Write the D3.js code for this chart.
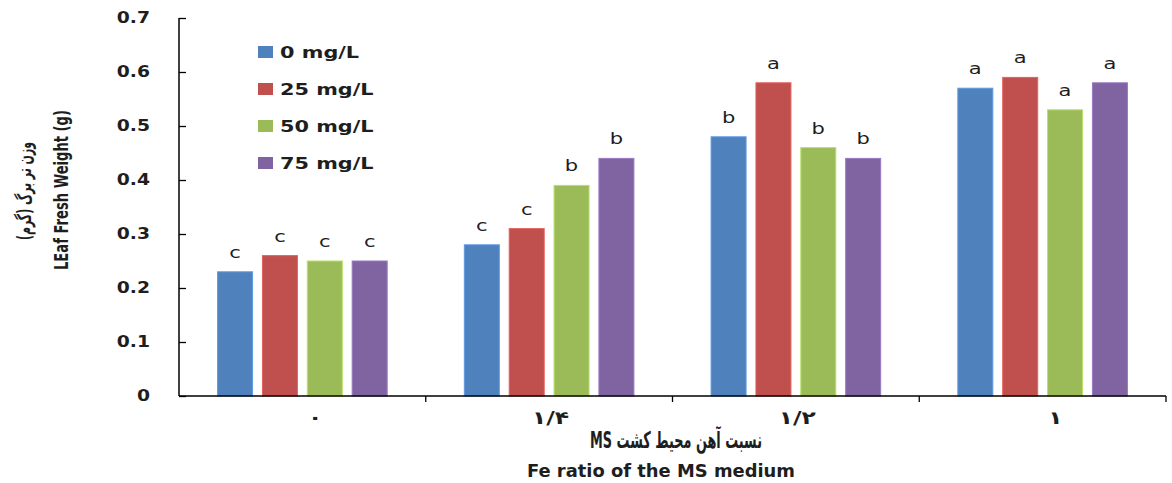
<!DOCTYPE html>
<html>
<head>
<meta charset="utf-8">
<script src="https://cdn.jsdelivr.net/npm/d3@7"></script>
<style>
  html, body { margin: 0; padding: 0; background: #fff; }
  svg { display: block; }
  text { font-family: "DejaVu Sans", sans-serif; fill: #1e1e1e; }
</style>
</head>
<body>
<svg id="chart" width="1172" height="483"></svg>
<script>
// Fe ratios of the MS medium (Persian numerals)
const categories = ["۰", "۱/۴", "۱/۲", "۱"];
// Iron chelate concentrations
const series = ["0 mg/L", "25 mg/L", "50 mg/L", "75 mg/L"];
const colors = ["#4F81BD", "#C0504D", "#9BBB59", "#8064A2"];
// Leaf fresh weight (g), one array per concentration, in category order
const fe0  = [0.23, 0.28, 0.48, 0.57];
const fe25 = [0.26, 0.31, 0.58, 0.59];
const fe50 = [0.25, 0.39, 0.46, 0.53];
const fe75 = [0.25, 0.44, 0.44, 0.58];
// Duncan grouping letters, same layout
const let0  = ["c", "c", "b", "a"];
const let25 = ["c", "c", "a", "a"];
const let50 = ["c", "b", "b", "a"];
const let75 = ["c", "b", "b", "a"];
const yTicks = [0, 0.1, 0.2, 0.3, 0.4, 0.5, 0.6, 0.7];

const values = [fe0, fe25, fe50, fe75];
const letters = [let0, let25, let50, let75];

const svg = d3.select("#chart");
const plotL = 179, plotR = 1166, plotT = 18, plotB = 396;

const x0 = d3.scaleBand().domain(categories).range([plotL, plotR]).padding(0);
const x1 = d3.scaleBand().domain(series).range([0, x0.bandwidth()])
  .paddingInner(0.22).paddingOuter(0.86);
const y = d3.scaleLinear().domain([0, 0.7]).range([plotB, plotT]);

// widen glyphs horizontally
function stretch(sel, k) {
  sel.each(function () {
    const w = this.getComputedTextLength();
    this.setAttribute("textLength", w * k);
    this.setAttribute("lengthAdjust", "spacingAndGlyphs");
  });
}

// bars
const rows = [];
categories.forEach((c, ci) => series.forEach((s, si) => {
  rows.push({ c, s, si, v: values[si][ci], l: letters[si][ci] });
}));

svg.append("g").selectAll("rect").data(rows).join("rect")
  .attr("x", d => x0(d.c) + x1(d.s))
  .attr("y", d => y(d.v))
  .attr("width", x1.bandwidth())
  .attr("height", d => y(0) - y(d.v))
  .attr("fill", d => colors[d.si])
  .attr("stroke", d => d3.color(colors[d.si]).brighter(0.5))
  .attr("stroke-width", 1);

// significance letters
const lt = svg.append("g").selectAll("text").data(rows).join("text")
  .attr("x", d => x0(d.c) + x1(d.s) + x1.bandwidth() / 2)
  .attr("y", d => y(d.v) - 14)
  .attr("text-anchor", "middle")
  .attr("font-size", 15)
  .text(d => d.l);
stretch(lt, 1.4);

// y axis
const yAxis = svg.append("g").attr("transform", `translate(${plotL},0)`)
  .call(d3.axisRight(y).tickValues(yTicks).tickSize(7).tickFormat(""));
yAxis.select(".domain").attr("stroke", "#000").attr("stroke-width", 1.5)
  .attr("d", `M0,${plotT}V${plotB}`);
yAxis.selectAll(".tick line").attr("stroke", "#000").attr("stroke-width", 1.3);

const yl = svg.append("g").selectAll("text").data(yTicks).join("text")
  .attr("x", 150)
  .attr("y", d => y(d) + 5)
  .attr("text-anchor", "end")
  .attr("font-size", 15)
  .attr("font-weight", "bold")
  .text(d => d === 0 ? "0" : d3.format(".1f")(d));
stretch(yl, 1.25);

// x axis with category boundary ticks
const xAxis = svg.append("g").attr("transform", `translate(0,${plotB})`);
xAxis.append("line").attr("x1", plotL).attr("x2", plotR)
  .attr("stroke", "#000").attr("stroke-width", 1.5);
const bounds = categories.map(c => x0(c) + x0.bandwidth());
xAxis.selectAll("line.tk").data(bounds).join("line").attr("class", "tk")
  .attr("x1", d => d).attr("x2", d => d).attr("y1", 0).attr("y2", 6)
  .attr("stroke", "#000").attr("stroke-width", 1.3);

const xl = svg.append("g").selectAll("text").data(categories).join("text")
  .attr("x", d => x0(d) + x0.bandwidth() / 2 + 20)
  .attr("y", 424)
  .attr("text-anchor", "end")
  .attr("font-size", 18)
  .attr("font-weight", "bold")
  .text(d => d);
stretch(xl, 1.3);

// x axis titles
svg.append("text")
  .attr("transform", "translate(676,448) scale(1,1.35)")
  .attr("text-anchor", "middle")
  .attr("direction", "rtl")
  .attr("font-size", 17)
  .attr("font-weight", "bold")
  .attr("textLength", 172).attr("lengthAdjust", "spacingAndGlyphs")
  .text("نسبت آهن محیط کشت MS");
svg.append("text")
  .attr("x", 661).attr("y", 477)
  .attr("text-anchor", "middle")
  .attr("font-size", 17)
  .attr("font-weight", "bold")
  .attr("textLength", 268).attr("lengthAdjust", "spacingAndGlyphs")
  .text("Fe ratio of the MS medium");

// y axis titles
svg.append("text")
  .attr("transform", "translate(31,191) rotate(-90) scale(1,1.2)")
  .attr("text-anchor", "middle")
  .attr("direction", "rtl")
  .attr("font-size", 16)
  .attr("font-weight", "bold")
  .attr("textLength", 98).attr("lengthAdjust", "spacingAndGlyphs")
  .text("وزن تر برگ (گرم)");
svg.append("text")
  .attr("transform", "translate(68,190) rotate(-90)")
  .attr("text-anchor", "middle")
  .attr("font-family", "'Liberation Sans Narrow', 'DejaVu Sans Condensed', sans-serif")
  .attr("font-size", 19)
  .attr("font-weight", "bold")
  .attr("textLength", 160).attr("lengthAdjust", "spacingAndGlyphs")
  .text("LEaf Fresh Weight (g)");

// legend
const lg = svg.append("g").selectAll("g").data(series).join("g")
  .attr("transform", (d, i) => `translate(258,${52 + i * 37})`);
lg.append("rect").attr("x", 0).attr("y", -6).attr("width", 15).attr("height", 12)
  .attr("fill", (d, i) => colors[i]);
const lgt = lg.append("text").attr("x", 22).attr("y", 6)
  .attr("font-size", 16)
  .attr("font-weight", "bold")
  .text(d => d);
stretch(lgt, 1.3);
</script>
</body>
</html>
